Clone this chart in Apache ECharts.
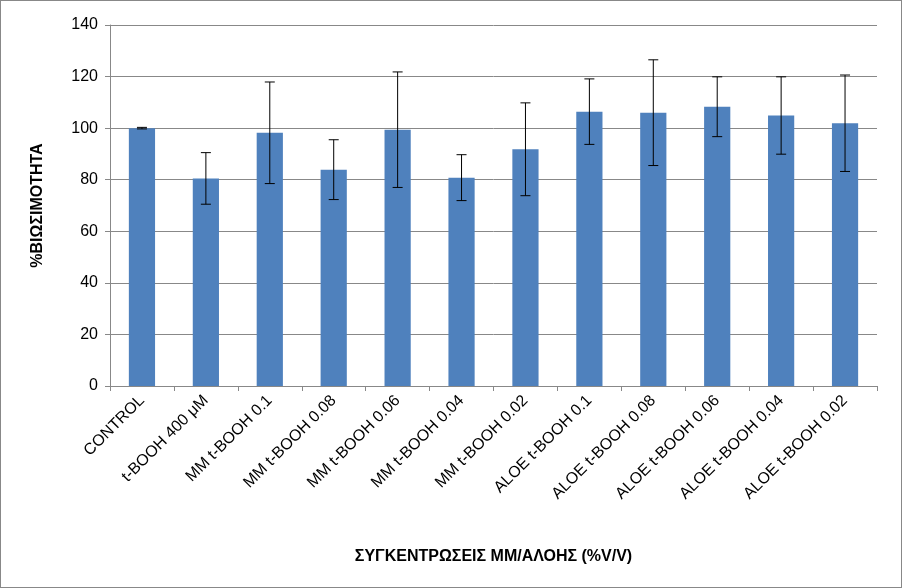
<!DOCTYPE html>
<html><head><meta charset="utf-8">
<script src="https://cdn.jsdelivr.net/npm/echarts@6/dist/echarts.min.js"></script>
<style>html,body{margin:0;padding:0;background:#fff}#c{width:902px;height:588px;box-sizing:border-box;border:1px solid #888}</style>
</head><body><div id="c"></div>
<script>
const categories=["CONTROL","t-BOOH 400 μM","MM t-BOOH 0.1","MM t-BOOH 0.08","MM t-BOOH 0.06","MM t-BOOH 0.04","MM t-BOOH 0.02","ALOE t-BOOH 0.1","ALOE t-BOOH 0.08","ALOE t-BOOH 0.06","ALOE t-BOOH 0.04","ALOE t-BOOH 0.02"];
const values=[100,80.5,98.2,83.9,99.4,80.8,91.8,106.4,106,108.3,104.9,101.9];
const errors=[0.3,10,19.7,11.6,22.4,8.9,18,12.7,20.5,11.6,15,18.7];
const yTicks=[0,20,40,60,80,100,120,140];
const chart=echarts.init(document.getElementById('c'));
chart.setOption({
 animation:false,
 grid:{left:109,right:24,top:24,bottom:201},
 xAxis:{type:'category',data:categories,axisTick:{show:true,length:5,lineStyle:{color:'#888'}},
  axisLine:{lineStyle:{color:'#888'}},
  axisLabel:{rotate:45,interval:0,color:'#000',fontSize:16,fontFamily:'Liberation Sans, Arial',margin:12},
  name:'ΣΥΓΚΕΝΤΡΩΣΕΙΣ ΜΜ/ΑΛΟΗΣ (%V/V)',nameLocation:'middle',nameGap:163,
  nameTextStyle:{fontWeight:'bold',fontSize:16,color:'#000',fontFamily:'Liberation Sans, Arial'}},
 yAxis:{type:'value',min:0,max:140,interval:20,
  axisLine:{show:true,lineStyle:{color:'#888'}},axisTick:{show:true,length:5,lineStyle:{color:'#888'}},
  splitLine:{lineStyle:{color:'#888'}},
  axisLabel:{color:'#000',fontSize:16,fontFamily:'Liberation Sans, Arial',margin:12,formatter:v=>yTicks.includes(v)?String(v):''},
  name:'%ΒΙΩΣΙΜΟΤΗΤΑ',nameLocation:'middle',nameGap:64,
  nameTextStyle:{fontWeight:'bold',fontSize:16,color:'#000',fontFamily:'Liberation Sans, Arial'}},
 series:[
  {type:'bar',data:values,barWidth:'41%',itemStyle:{color:'#4F81BD'}},
  {type:'custom',data:values.map((v,i)=>[i,v-errors[i],v+errors[i]]),z:10,
   renderItem:(p,api)=>{const lo=api.coord([api.value(0),api.value(1)]);const hi=api.coord([api.value(0),api.value(2)]);const w=5;
    const st={stroke:'#000',lineWidth:1};
    return {type:'group',children:[
     {type:'line',shape:{x1:lo[0],y1:lo[1],x2:hi[0],y2:hi[1]},style:st},
     {type:'line',shape:{x1:lo[0]-w,y1:lo[1],x2:lo[0]+w,y2:lo[1]},style:st},
     {type:'line',shape:{x1:hi[0]-w,y1:hi[1],x2:hi[0]+w,y2:hi[1]},style:st}]};}}
 ]
});
</script></body></html>
